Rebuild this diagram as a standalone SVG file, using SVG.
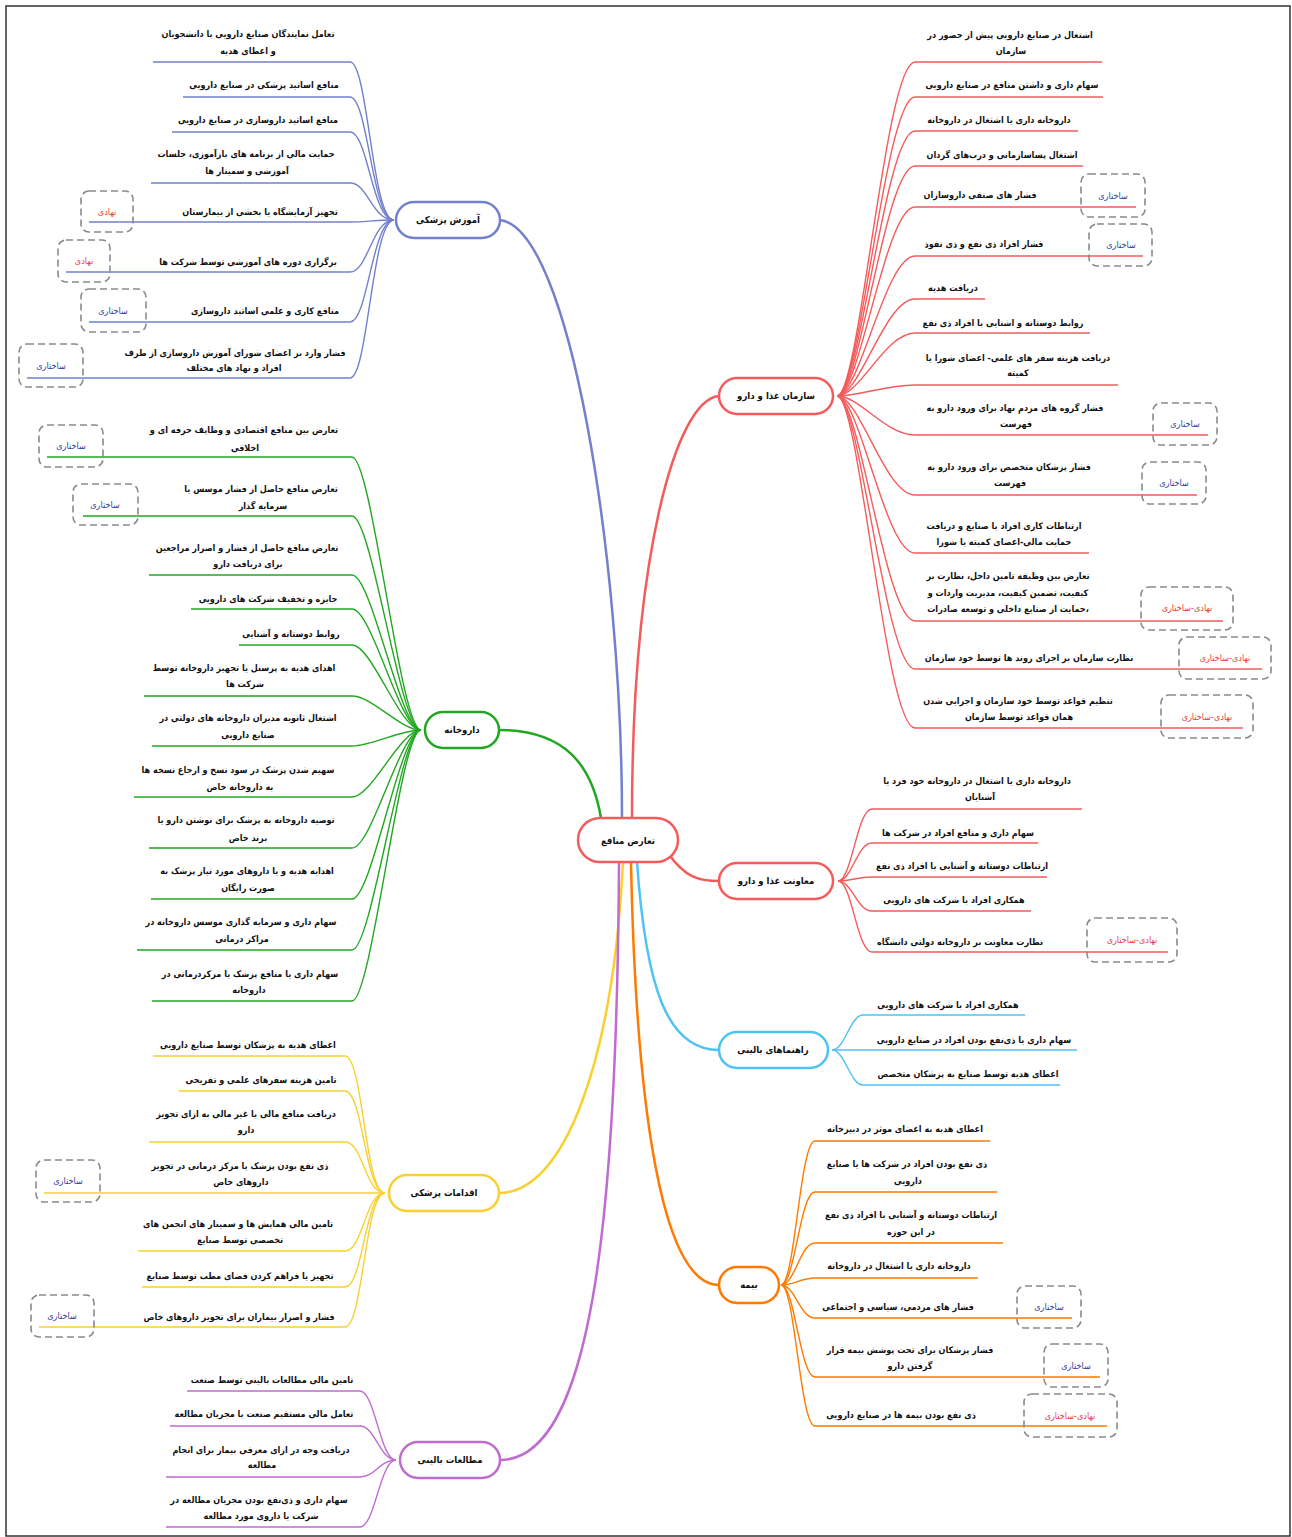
<svg xmlns="http://www.w3.org/2000/svg" width="1292" height="1537" viewBox="0 0 1292 1537">
<style>
.t{font-family:"DejaVu Sans Condensed","DejaVu Sans",sans-serif;font-size:9px;font-weight:bold;fill:#111;text-anchor:middle;direction:rtl}
.nt{font-family:"DejaVu Sans Condensed","DejaVu Sans",sans-serif;font-size:9.5px;font-weight:bold;fill:#111;text-anchor:middle;direction:rtl}
.lb{font-family:"DejaVu Sans Condensed","DejaVu Sans",sans-serif;font-size:9px;fill:#2d3a9c;text-anchor:middle;direction:rtl}
.lr{fill:#e8383d}
.box{fill:none;stroke:#8a8a8a;stroke-width:1.6;stroke-dasharray:7 4}
.node{fill:#fff;stroke-width:2.5}
.c{fill:none;stroke-width:1.4}
.m{fill:none;stroke-width:2.5}
.blue{stroke:#7380cc}.red{stroke:#f45b5b}.green{stroke:#22a722}.yellow{stroke:#f9d030}.purple{stroke:#c06bd0}.lblue{stroke:#4fc3f7}.orange{stroke:#ff7a00}
</style>
<rect x="6" y="6" width="1284" height="1530" fill="#fff" stroke="#333" stroke-width="1.5"/>
<g id="connectors">
<path class="m blue" d="M500,220 C570,228 622,560 622,818"/>
<path class="m red" d="M719,396 C675,400 632,560 632,818"/>
<path class="m green" d="M499,730 C565,730 592,765 601,818"/>
<path class="m red" d="M668,853 C685,878 700,881 719,881"/>
<path class="m lblue" d="M637,862 C646,990 668,1050 719,1050"/>
<path class="m orange" d="M631,862 C636,1110 662,1285 719,1285"/>
<path class="m yellow" d="M623,862 C613,1060 565,1193 499,1193"/>
<path class="m purple" d="M619,862 C617,1230 590,1460 500,1460"/>
<path class="c blue" d="M394,220 C372,220 368,62 350,62 L153,62"/>
<path class="c blue" d="M394,220 C372,220 368,97 350,97 L183,97"/>
<path class="c blue" d="M394,220 C372,220 368,132 350,132 L172,132"/>
<path class="c blue" d="M394,220 C372,220 368,183 350,183 L151,183"/>
<path class="c blue" d="M394,220 C372,220 368,222 350,222 L89,222"/>
<path class="c blue" d="M394,220 C372,220 368,272 350,272 L66,272"/>
<path class="c blue" d="M394,220 C372,220 368,322 350,322 L89,322"/>
<path class="c blue" d="M394,220 C372,220 368,378 350,378 L27,378"/>
<path class="c green" d="M421,730 C400,730 372,457 352,457 L47,457"/>
<path class="c green" d="M421,730 C400,730 372,516 352,516 L83,516"/>
<path class="c green" d="M421,730 C400,730 372,575 352,575 L149,575"/>
<path class="c green" d="M421,730 C400,730 372,609 352,609 L191,609"/>
<path class="c green" d="M421,730 C400,730 372,645 352,645 L239,645"/>
<path class="c green" d="M421,730 C400,730 372,696 352,696 L144,696"/>
<path class="c green" d="M421,730 C400,730 372,746 352,746 L152,746"/>
<path class="c green" d="M421,730 C400,730 372,797 352,797 L134,797"/>
<path class="c green" d="M421,730 C400,730 372,848 352,848 L149,848"/>
<path class="c green" d="M421,730 C400,730 372,899 352,899 L151,899"/>
<path class="c green" d="M421,730 C400,730 372,950 352,950 L137,950"/>
<path class="c green" d="M421,730 C400,730 372,1001 352,1001 L152,1001"/>
<path class="c yellow" d="M385,1193 C365,1193 363,1056 345,1056 L153,1056"/>
<path class="c yellow" d="M385,1193 C365,1193 363,1091 345,1091 L179,1091"/>
<path class="c yellow" d="M385,1193 C365,1193 363,1142 345,1142 L149,1142"/>
<path class="c yellow" d="M385,1193 C365,1193 363,1193 345,1193 L44,1193"/>
<path class="c yellow" d="M385,1193 C365,1193 363,1251 345,1251 L138,1251"/>
<path class="c yellow" d="M385,1193 C365,1193 363,1287 345,1287 L142,1287"/>
<path class="c yellow" d="M385,1193 C365,1193 363,1327 345,1327 L39,1327"/>
<path class="c purple" d="M396,1460 C380,1460 375,1391 360,1391 L187,1391"/>
<path class="c purple" d="M396,1460 C380,1460 375,1426 360,1426 L170,1426"/>
<path class="c purple" d="M396,1460 C380,1460 375,1477 360,1477 L166,1477"/>
<path class="c purple" d="M396,1460 C380,1460 375,1527 360,1527 L166,1527"/>
<path class="c red" d="M837,396 C860,396 885,62 915,62 L1102,62"/>
<path class="c red" d="M837,396 C860,396 885,97 915,97 L1103,97"/>
<path class="c red" d="M837,396 C860,396 885,131 915,131 L1078,131"/>
<path class="c red" d="M837,396 C860,396 885,166 915,166 L1083,166"/>
<path class="c red" d="M837,396 C860,396 885,207 915,207 L1136,207"/>
<path class="c red" d="M837,396 C860,396 885,256 915,256 L1143,256"/>
<path class="c red" d="M837,396 C860,396 885,299 915,299 L985,299"/>
<path class="c red" d="M837,396 C860,396 885,333 915,333 L1090,333"/>
<path class="c red" d="M837,396 C860,396 885,385 915,385 L1118,385"/>
<path class="c red" d="M837,396 C860,396 885,435 915,435 L1208,435"/>
<path class="c red" d="M837,396 C860,396 885,495 915,495 L1197,495"/>
<path class="c red" d="M837,396 C860,396 885,553 915,553 L1089,553"/>
<path class="c red" d="M837,396 C860,396 885,621 915,621 L1223,621"/>
<path class="c red" d="M837,396 C860,396 885,669 915,669 L1262,669"/>
<path class="c red" d="M837,396 C860,396 885,728 915,728 L1243,728"/>
<path class="c red" d="M838,881 C852,881 857,809 872,809 L1082,809"/>
<path class="c red" d="M838,881 C852,881 857,843 872,843 L1038,843"/>
<path class="c red" d="M838,881 C852,881 857,877 872,877 L1047,877"/>
<path class="c red" d="M838,881 C852,881 857,911 872,911 L1031,911"/>
<path class="c red" d="M838,881 C852,881 857,952 872,952 L1168,952"/>
<path class="c lblue" d="M832,1050 C845,1050 850,1015 863,1015 L1025,1015"/>
<path class="c lblue" d="M832,1050 C845,1050 850,1050 863,1050 L1077,1050"/>
<path class="c lblue" d="M832,1050 C845,1050 850,1085 863,1085 L1060,1085"/>
<path class="c orange" d="M781,1285 C795,1285 800,1141 815,1141 L990,1141"/>
<path class="c orange" d="M781,1285 C795,1285 800,1192 815,1192 L997,1192"/>
<path class="c orange" d="M781,1285 C795,1285 800,1243 815,1243 L1003,1243"/>
<path class="c orange" d="M781,1285 C795,1285 800,1278 815,1278 L978,1278"/>
<path class="c orange" d="M781,1285 C795,1285 800,1318 815,1318 L1072,1318"/>
<path class="c orange" d="M781,1285 C795,1285 800,1377 815,1377 L1100,1377"/>
<path class="c orange" d="M781,1285 C795,1285 800,1426 815,1426 L1107,1426"/>
</g>
<g id="n-center"><rect class="node red" x="578" y="818" width="100" height="44" rx="22"/><text class="nt" x="628" y="844">تعارض منافع</text></g>
<g id="n-edu"><rect class="node blue" x="396" y="202" width="104" height="36" rx="18"/><text class="nt" x="448" y="223">آموزش پزشکی</text></g>
<g id="n-pharm"><rect class="node green" x="425" y="712" width="74" height="36" rx="18"/><text class="nt" x="462" y="733">داروخانه</text></g>
<g id="n-med"><rect class="node yellow" x="389" y="1175" width="110" height="36" rx="18"/><text class="nt" x="444" y="1196">اقدامات پزشکی</text></g>
<g id="n-clin"><rect class="node purple" x="400" y="1442" width="100" height="36" rx="18"/><text class="nt" x="450" y="1463">مطالعات بالینی</text></g>
<g id="n-fda"><rect class="node red" x="719" y="378" width="114" height="36" rx="18"/><text class="nt" x="776" y="399">سازمان غذا و دارو</text></g>
<g id="n-dep"><rect class="node red" x="719" y="863" width="114" height="36" rx="18"/><text class="nt" x="776" y="884">معاونت غذا و دارو</text></g>
<g id="n-guide"><rect class="node lblue" x="719" y="1032" width="109" height="36" rx="18"/><text class="nt" x="773" y="1053">راهنماهای بالینی</text></g>
<g id="n-ins"><rect class="node orange" x="719" y="1267" width="60" height="36" rx="18"/><text class="nt" x="749" y="1288">بیمه</text></g>
<g id="leaves-edu">
<text class="t" x="248" y="37">تعامل نمایندگان صنایع دارویی با دانشجویان</text><text class="t" x="248" y="54">و اعطای هدیه</text>
<text class="t" x="264" y="88">منافع اساتید پزشکی در صنایع دارویی</text>
<text class="t" x="258" y="123">منافع اساتید داروسازی در صنایع دارویی</text>
<text class="t" x="246" y="157">حمایت مالی از برنامه های بازآموزی، جلسات</text><text class="t" x="247" y="174">آموزشی و سمینار ها</text>
<text class="t" x="260" y="215">تجهیز آزمایشگاه یا بخشی از بیمارستان</text>
<rect class="box" x="81" y="191" width="52" height="41" rx="8"/><text class="lb lr" x="107" y="215">نهادی</text>
<text class="t" x="248" y="265">برگزاری دوره های آموزشی توسط شرکت ها</text>
<rect class="box" x="58" y="240" width="52" height="42" rx="8"/><text class="lb lr" x="84" y="264">نهادی</text>
<text class="t" x="265" y="314">منافع کاری و علمی اساتید داروسازی</text>
<rect class="box" x="81" y="289" width="65" height="43" rx="8"/><text class="lb" x="113" y="314">ساختاری</text>
<text class="t" x="235" y="356">فشار وارد بر اعضای شورای آموزش داروسازی از طرف</text><text class="t" x="234" y="371">افراد و نهاد های مختلف</text>
<rect class="box" x="19" y="344" width="64" height="43" rx="8"/><text class="lb" x="51" y="369">ساختاری</text>
</g>
<g id="leaves-pharm">
<text class="t" x="244" y="433">تعارض بین منافع اقتصادی و وظایف حرفه ای و</text><text class="t" x="245" y="451">اخلاقی</text>
<rect class="box" x="39" y="425" width="64" height="42" rx="8"/><text class="lb" x="71" y="449">ساختاری</text>
<text class="t" x="261" y="492">تعارض منافع حاصل از فشار موسس یا</text><text class="t" x="263" y="509">سرمایه گذار</text>
<rect class="box" x="73" y="484" width="65" height="41" rx="8"/><text class="lb" x="105" y="508">ساختاری</text>
<text class="t" x="247" y="551">تعارض منافع حاصل از فشار و اصرار مراجعین</text><text class="t" x="248" y="567">برای دریافت دارو</text>
<text class="t" x="268" y="602">جایزه و تخفیف شرکت های دارویی</text>
<text class="t" x="291" y="637">روابط دوستانه و آشنایی</text>
<text class="t" x="244" y="671">اهدای هدیه به پرسنل یا تجهیز داروخانه توسط</text><text class="t" x="245" y="687">شرکت ها</text>
<text class="t" x="248" y="721">اشتغال ثانویه مدیران داروخانه های دولتی در</text><text class="t" x="248" y="738">صنایع دارویی</text>
<text class="t" x="238" y="773">سهیم شدن پزشک در سود نسخ و ارجاع نسخه ها</text><text class="t" x="240" y="790">به داروخانه خاص</text>
<text class="t" x="246" y="823">توصیه داروخانه به پزشک برای نوشتن دارو یا</text><text class="t" x="248" y="841">برند خاص</text>
<text class="t" x="247" y="874">اهدایه هدیه و یا داروهای مورد نیاز پزشک به</text><text class="t" x="248" y="891">صورت رایگان</text>
<text class="t" x="241" y="925">سهام داری و سرمایه گذاری موسس داروخانه در</text><text class="t" x="242" y="942">مراکز درمانی</text>
<text class="t" x="250" y="977">سهام داری یا منافع پزشک یا مرکزدرمانی در</text><text class="t" x="249" y="993">داروخانه</text>
</g>
<g id="leaves-med">
<text class="t" x="248" y="1048">اعطای هدیه به پزشکان توسط صنایع دارویی</text>
<text class="t" x="261" y="1083">تامین هزینه سفرهای علمی و تفریحی</text>
<text class="t" x="246" y="1117">دریافت منافع مالی یا غیر مالی به ازای تجویز</text><text class="t" x="246" y="1133">دارو</text>
<text class="t" x="240" y="1169">ذی نفع بودن پزشک یا مرکز درمانی در تجویز</text><text class="t" x="241" y="1185">داروهای خاص</text>
<rect class="box" x="36" y="1160" width="64" height="42" rx="8"/><text class="lb" x="68" y="1184">ساختاری</text>
<text class="t" x="238" y="1227">تامین مالی همایش ها و سمینار های انجمن های</text><text class="t" x="240" y="1243">تخصصی توسط صنایع</text>
<text class="t" x="240" y="1279">تجهیز یا فراهم کردن فضای مطب توسط صنایع</text>
<text class="t" x="239" y="1320">فشار و اصرار بیماران برای تجویز داروهای خاص</text>
<rect class="box" x="31" y="1295" width="63" height="42" rx="8"/><text class="lb" x="62" y="1319">ساختاری</text>
</g>
<g id="leaves-clin">
<text class="t" x="272" y="1383">تامین مالی مطالعات بالینی توسط صنعت</text>
<text class="t" x="264" y="1417">تعامل مالی مستقیم صنعت با مجریان مطالعه</text>
<text class="t" x="261" y="1453">دریافت وجه در ازای معرفی بیمار برای انجام</text><text class="t" x="262" y="1468">مطالعه</text>
<text class="t" x="259" y="1503">سهام داری و ذی‌نفع بودن مجریان مطالعه در</text><text class="t" x="261" y="1519">شرکت یا داروی مورد مطالعه</text>
</g>
<g id="leaves-fda">
<text class="t" x="1010" y="38">اشتغال در صنایع دارویی پیش از حضور در</text><text class="t" x="1011" y="54">سازمان</text>
<text class="t" x="1012" y="88">سهام داری و داشتن منافع در صنایع دارویی</text>
<text class="t" x="999" y="123">داروخانه داری یا اشتغال در داروخانه</text>
<text class="t" x="1002" y="158">اشتغال پساسازمانی و درب‌های گردان</text>
<text class="t" x="980" y="198">فشار های صنفی داروسازان</text>
<rect class="box" x="1081" y="174" width="64" height="43" rx="8"/><text class="lb" x="1113" y="199">ساختاری</text>
<text class="t" x="984" y="247">فشار افراد ذی نفع و ذی نفوذ</text>
<rect class="box" x="1089" y="224" width="63" height="42" rx="8"/><text class="lb" x="1121" y="248">ساختاری</text>
<text class="t" x="953" y="291">دریافت هدیه</text>
<text class="t" x="1003" y="326">روابط دوستانه و اشنایی با افراد ذی نفع</text>
<text class="t" x="1018" y="361">دریافت هزینه سفر های علمی- اعضای شورا یا</text><text class="t" x="1018" y="376">کمیته</text>
<text class="t" x="1015" y="411">فشار گروه های مردم نهاد برای ورود دارو به</text><text class="t" x="1016" y="427">فهرست</text>
<rect class="box" x="1153" y="403" width="64" height="42" rx="8"/><text class="lb" x="1185" y="427">ساختاری</text>
<text class="t" x="1009" y="470">فشار پزشکان متخصص برای ورود دارو به</text><text class="t" x="1010" y="486">فهرست</text>
<rect class="box" x="1142" y="462" width="64" height="42" rx="8"/><text class="lb" x="1174" y="486">ساختاری</text>
<text class="t" x="1004" y="529">ارتباطات کاری افراد با صنایع و دریافت</text><text class="t" x="1004" y="545">حمایت مالی-اعضای کمیته یا شورا</text>
<text class="t" x="1008" y="579">تعارض بین وظیفه تامین داخل، نظارت بر</text><text class="t" x="1008" y="596">کیفیت، تضمین کیفیت، مدیریت واردات و</text><text class="t" x="1008" y="612">،حمایت از صنایع داخلی و توسعه صادرات</text>
<rect class="box" x="1141" y="587" width="92" height="43" rx="8"/><text class="lb lr" x="1187" y="611">نهادی-ساختاری</text>
<text class="t" x="1029" y="661">نظارت سازمان بر اجرای روند ها توسط خود سازمان</text>
<rect class="box" x="1179" y="637" width="92" height="42" rx="8"/><text class="lb lr" x="1225" y="661">نهادی-ساختاری</text>
<text class="t" x="1018" y="704">تنظیم قواعد توسط خود سازمان و اجرایی شدن</text><text class="t" x="1019" y="720">همان قواعد توسط سازمان</text>
<rect class="box" x="1161" y="695" width="92" height="43" rx="8"/><text class="lb lr" x="1207" y="720">نهادی-ساختاری</text>
</g>
<g id="leaves-dep">
<text class="t" x="977" y="784">داروخانه داری یا اشتغال در داروخانه خود فرد یا</text><text class="t" x="980" y="800">آشنایان</text>
<text class="t" x="958" y="836">سهام داری و منافع افراد در شرکت ها</text>
<text class="t" x="962" y="869">ارتباطات دوستانه و آشنایی با افراد ذی نفع</text>
<text class="t" x="954" y="903">همکاری افراد با شرکت های دارویی</text>
<text class="t" x="960" y="945">نظارت معاونت بر داروخانه دولتی دانشگاه</text>
<rect class="box" x="1087" y="918" width="90" height="44" rx="8"/><text class="lb lr" x="1132" y="943">نهادی-ساختاری</text>
</g>
<g id="leaves-guide">
<text class="t" x="948" y="1008">همکاری افراد با شرکت های دارویی</text>
<text class="t" x="974" y="1043">سهام داری یا ذی‌نفع بودن افراد در صنایع دارویی</text>
<text class="t" x="968" y="1077">اعطای هدیه توسط صنایع به پزشکان متخصص</text>
</g>
<g id="leaves-ins">
<text class="t" x="905" y="1132">اعطای هدیه به اعضای موثر در دبیرخانه</text>
<text class="t" x="907" y="1167">ذی نفع بودن افراد در شرکت ها یا صنایع</text><text class="t" x="908" y="1184">دارویی</text>
<text class="t" x="911" y="1218">ارتباطات دوستانه و آشنایی با افراد ذی نفع</text><text class="t" x="911" y="1235">در این حوزه</text>
<text class="t" x="899" y="1269">داروخانه داری یا اشتغال در داروخانه</text>
<text class="t" x="898" y="1310">فشار های مردمی، سیاسی و اجتماعی</text>
<rect class="box" x="1017" y="1286" width="64" height="42" rx="8"/><text class="lb" x="1049" y="1310">ساختاری</text>
<text class="t" x="910" y="1353">فشار پزشکان برای تحت پوشش بیمه قرار</text><text class="t" x="910" y="1369">گرفتن دارو</text>
<rect class="box" x="1044" y="1344" width="64" height="43" rx="8"/><text class="lb" x="1076" y="1369">ساختاری</text>
<text class="t" x="901" y="1418">ذی نفع بودن بیمه ها در صنایع دارویی</text>
<rect class="box" x="1024" y="1394" width="93" height="43" rx="8"/><text class="lb lr" x="1070" y="1419">نهادی-ساختاری</text>
</g>
</svg>
